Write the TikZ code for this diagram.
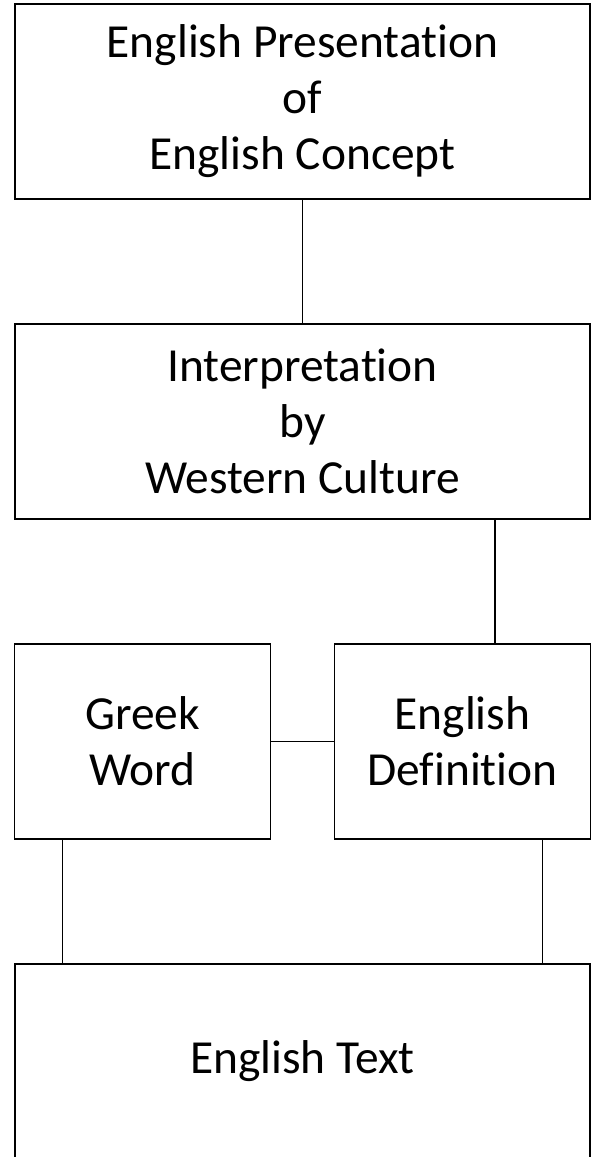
\documentclass[tikz,border=0pt]{standalone}
\usepackage{fontspec}
\setmainfont{Carlito}[Ligatures=NoCommon]
\usetikzlibrary{positioning}

\begin{document}
\begin{tikzpicture}
    [
        node distance=64mm and 32mm, on grid,
        wide_box/.style={rectangle, draw=black!100, fill=black!0, line width=1.1pt, minimum width=115mm, minimum height=39mm, inner sep=0pt, align=center, font=\fontsize{27}{31.9}\selectfont},
        half_box/.style={wide_box, minimum width=51.2mm},
    ]
        \useasboundingbox (0,0) rectangle (11.82,-23.14) ;
        \node[wide_box] (concept) at (6.05,-2.03) {English Presentation\\of\\English Concept} ;
        \node[wide_box] (interp) [below = of concept] {Interpretation\\by\\Western Culture} ;
        \node[half_box] (greek) [below left = of interp] {Greek\\Word} ;
        \node[half_box] (defn) [below right = of interp] {English\\Definition} ;
        \node[wide_box] (engtext) [below = 128mm of interp] {English Text} ;
        \draw[line width=1.1pt, color=black] (concept) -- (interp) ;
        \draw[line width=1.1pt, color=black] ([xshift=6.5mm]defn.north) -- ([xshift=6.5mm]defn.north |- interp.south) ;
        \draw[line width=1.1pt, color=black] (greek) -- (defn) ;
        \draw[line width=1.1pt, color=black] ([xshift=-16mm]greek.south) -- ([xshift=-16mm]greek.south |- engtext.north) ;
        \draw[line width=1.1pt, color=black] ([xshift=16mm]defn.south) -- ([xshift=16mm]defn.south |- engtext.north) ;
    \end{tikzpicture}
\end{document}
